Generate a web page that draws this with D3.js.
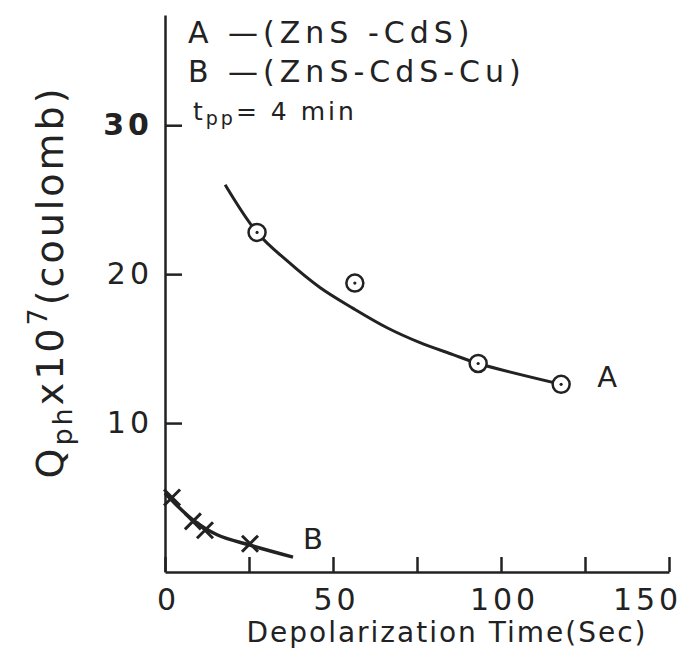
<!DOCTYPE html>
<html>
<head>
<meta charset="utf-8">
<script src="https://cdn.jsdelivr.net/npm/d3@7"></script>
<style>
  body { margin: 0; background: #fff; }
  svg { display: block; }
  text { font-family: "DejaVu Sans", sans-serif; fill: #222; }
  .axis path, .axis line { stroke: #222; stroke-width: 2.5; }
  .axis text { font-size: 30px; letter-spacing: 4px; }
</style>
</head>
<body>
<div id="chart"></div>
<script>
'use strict';

// measured points
let timeA = [27.4, 56.5, 93.2, 117.9];
let chargeA = [22.8, 19.4, 14.0, 12.6];
let timeB = [2.1, 8.3, 11.9, 25.3];
let chargeB = [5.0, 3.4, 2.8, 1.9];

// hand drawn curves through them
let curveTimeA = [17.9, 27.4, 36.3, 46.1, 56.0, 66.1, 75.9, 85.7, 93.2, 117.9];
let curveChargeA = [26.0, 22.8, 20.9, 19.1, 17.7, 16.4, 15.4, 14.6, 14.0, 12.6];
let curveTimeB = [0, 2.1, 8.3, 15.5, 25.3, 38.1];
let curveChargeB = [5.3, 4.8, 3.5, 2.5, 1.8, 1.0];

let xTicks = [0, 25, 50, 75, 100, 125, 150];
let xTickLabels = ['0', '', '50', '', '100', '', '150'];
let yTicks = [10, 20, 30];

let width = 681;
let height = 648;

let xScale = d3.scaleLinear()
    .domain([0, 150])
    .range([165, 669]);

let yScale = d3.scaleLinear()
    .domain([0, 37.4])
    .range([572, 15]);

let svg = d3.select('#chart').append('svg')
    .attr('width', width)
    .attr('height', height);

let xAxis = d3.axisBottom(xScale)
    .tickValues(xTicks)
    .tickFormat((d, i) => xTickLabels[i])
    .tickSize(-15)
    .tickSizeOuter(0)
    .tickPadding(17);

let yAxis = d3.axisLeft(yScale)
    .tickValues(yTicks)
    .tickSize(-17)
    .tickSizeOuter(0)
    .tickPadding(12);

let gx = svg.append('g')
    .attr('class', 'axis')
    .attr('transform', `translate(0, ${yScale(0)})`)
    .call(xAxis);
gx.selectAll('text').attr('dx', 3);
gx.selectAll('text').filter(d => d === 150).attr('dx', -22);

let gy = svg.append('g')
    .attr('class', 'axis')
    .attr('transform', `translate(${xScale(0)}, 0)`)
    .call(yAxis);
gy.selectAll('text').filter(d => d === 30).style('font-weight', 'bold');

let line = d3.line()
    .x(d => xScale(d[0]))
    .y(d => yScale(d[1]))
    .curve(d3.curveCatmullRom.alpha(0.5));

svg.append('path')
    .datum(d3.zip(curveTimeA, curveChargeA))
    .attr('d', line)
    .attr('fill', 'none')
    .attr('stroke', '#222')
    .attr('stroke-width', 3);

svg.append('path')
    .datum(d3.zip(curveTimeB, curveChargeB))
    .attr('d', line)
    .attr('fill', 'none')
    .attr('stroke', '#222')
    .attr('stroke-width', 3.5);

let ptsA = svg.selectAll('.ptA')
    .data(d3.zip(timeA, chargeA))
    .enter()
    .append('g')
    .attr('class', 'ptA')
    .attr('transform', d => `translate(${xScale(d[0])}, ${yScale(d[1])})`);
ptsA.append('circle')
    .attr('r', 8.5)
    .attr('fill', '#fff')
    .attr('stroke', '#222')
    .attr('stroke-width', 2.5);
ptsA.append('circle')
    .attr('r', 1.6)
    .attr('fill', '#222');

svg.selectAll('.ptB')
    .data(d3.zip(timeB, chargeB))
    .enter()
    .append('path')
    .attr('class', 'ptB')
    .attr('transform', d => `translate(${xScale(d[0])}, ${yScale(d[1])})`)
    .attr('d', 'M-8,-8L8,8M-8,8L8,-8')
    .attr('stroke', '#222')
    .attr('stroke-width', 3);

svg.append('text')
    .text('A')
    .attr('x', xScale(117.9) + 36)
    .attr('y', yScale(12.6) + 3)
    .style('font-size', '29px');

svg.append('text')
    .text('B')
    .attr('x', xScale(38.1) + 10)
    .attr('y', yScale(1.0) - 8)
    .style('font-size', '29px');

// legend
let legend = svg.append('g')
    .style('letter-spacing', '5px');
legend.append('text')
    .text('A —(ZnS -CdS)')
    .attr('x', 188)
    .attr('y', 43)
    .style('font-size', '30px');
legend.append('text')
    .text('B —(ZnS-CdS-Cu)')
    .attr('x', 188)
    .attr('y', 82)
    .style('font-size', '30px');
let tpp = legend.append('text')
    .attr('x', 193)
    .attr('y', 120)
    .style('font-size', '25px')
    .style('letter-spacing', '3px');
tpp.append('tspan').text('t');
tpp.append('tspan').text('pp').attr('dy', 5).style('font-size', '19px');
tpp.append('tspan').text('= 4 min').attr('dy', -5);

// axis titles
svg.append('text')
    .text('Depolarization Time(Sec)')
    .attr('x', 447)
    .attr('y', 642)
    .attr('text-anchor', 'middle')
    .style('font-size', '28px')
    .style('letter-spacing', '2px');

let yTitle = svg.append('text')
    .attr('transform', 'translate(63, 282) rotate(-90)')
    .attr('text-anchor', 'middle')
    .style('font-size', '38px')
    .style('letter-spacing', '3px');
yTitle.append('tspan').text('Q');
yTitle.append('tspan').text('ph').attr('dy', 9).style('font-size', '27px');
yTitle.append('tspan').text('x10').attr('dy', -9);
yTitle.append('tspan').text('7').attr('dy', -16).style('font-size', '27px');
yTitle.append('tspan').text('(coulomb)').attr('dy', 16);
</script>
</body>
</html>
